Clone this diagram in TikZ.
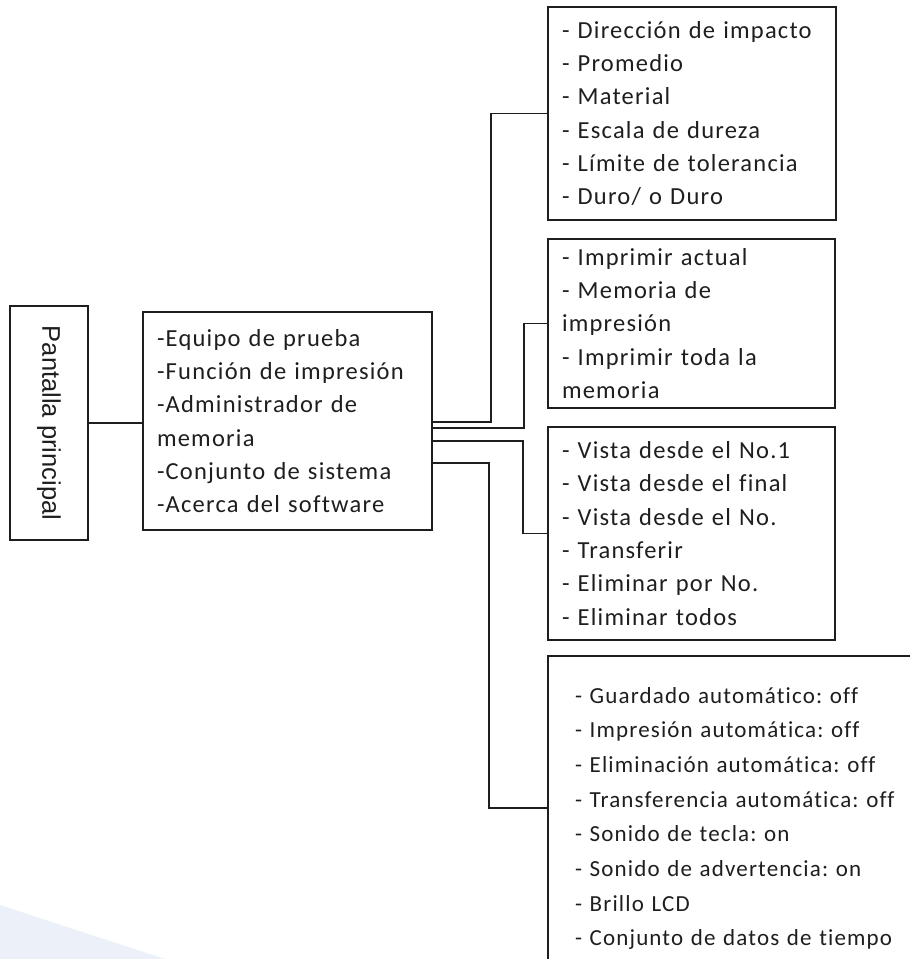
\documentclass[tikz,border=0pt]{standalone}
\usepackage{fontspec}
\setmainfont{Carlito}[LetterSpace=5, Ligatures=NoCommon]
\newfontfamily\titlefont{Liberation Sans}
\definecolor{paleblue}{HTML}{EBF0F9}
\definecolor{inkgray}{HTML}{1E1E1E}
\tikzset{
    menubox/.style={draw=inkgray, line width=1.6pt, align=left, inner xsep=14pt, inner ysep=0pt,
        text=inkgray, font=\fontsize{24.5}{33.3}\selectfont},
    link/.style={draw=inkgray, line width=1.6pt}
}
\begin{document}
\frenchspacing
\begin{tikzpicture}[x=1pt, y=-1pt]
    \useasboundingbox (0,0) rectangle (910,959);
    \clip (0,0) rectangle (910,959);
    % Pale background corner
    \fill[paleblue] (0,905) -- (165,959) -- (0,959) -- cycle;

    % Left side - main screen and its menu
    \node[menubox, minimum width=78pt, minimum height=234pt, inner xsep=0pt] (pant) at (49,423)
        {\rotatebox{-90}{\titlefont\fontsize{25.5}{28}\selectfont Pantalla principal}};
    \node[menubox, text width=261pt, minimum height=218pt] (main) at (287.5,421)
        {-Equipo de prueba\\-Función de impresión\\-Administrador de\\memoria\\-Conjunto de sistema\\-Acerca del software};

    % Right side - submenus
    \node[menubox, text width=260pt, minimum height=213pt] (test) at (692,113.5)
        {- Dirección de impacto\\- Promedio\\- Material\\- Escala de dureza\\- Límite de tolerancia\\- Duro/ o Duro};
    \node[menubox, text width=259pt, minimum height=169pt] (print) at (691.5,323.5)
        {- Imprimir actual\\- Memoria de\\impresión\\- Imprimir toda la\\memoria};
    \node[menubox, text width=259pt, minimum height=213pt] (memory) at (691.5,533.5)
        {- Vista desde el No.1\\- Vista desde el final\\- Vista desde el No.\\- Transferir\\- Eliminar por No.\\- Eliminar todos};
    \node[menubox, inner xsep=27pt, text width=360pt, minimum height=325pt,
        font=\fontsize{23}{34.7}\selectfont] (system) at (755,818.5)
        {- Guardado automático: off\\- Impresión automática: off\\- Eliminación automática: off\\- Transferencia automática: off\\- Sonido de tecla: on\\- Sonido de advertencia: on\\- Brillo LCD\\- Conjunto de datos de tiempo};

    % Connectors
    \draw[link] (pant.east) -- (main.west |- pant.east);
    \draw[link] ([yshift=-1pt]main.east) -- ++(58,0) |- (test.west);
    \draw[link] ([yshift=-7pt]main.east) -- ++(91,0) |- (print.west);
    \draw[link] ([yshift=-20pt]main.east) -- ++(90,0) |- (memory.west);
    \draw[link] ([yshift=-42pt]main.east) -- ++(56,0) |- ([yshift=10.5pt]system.west);
\end{tikzpicture}
\end{document}
